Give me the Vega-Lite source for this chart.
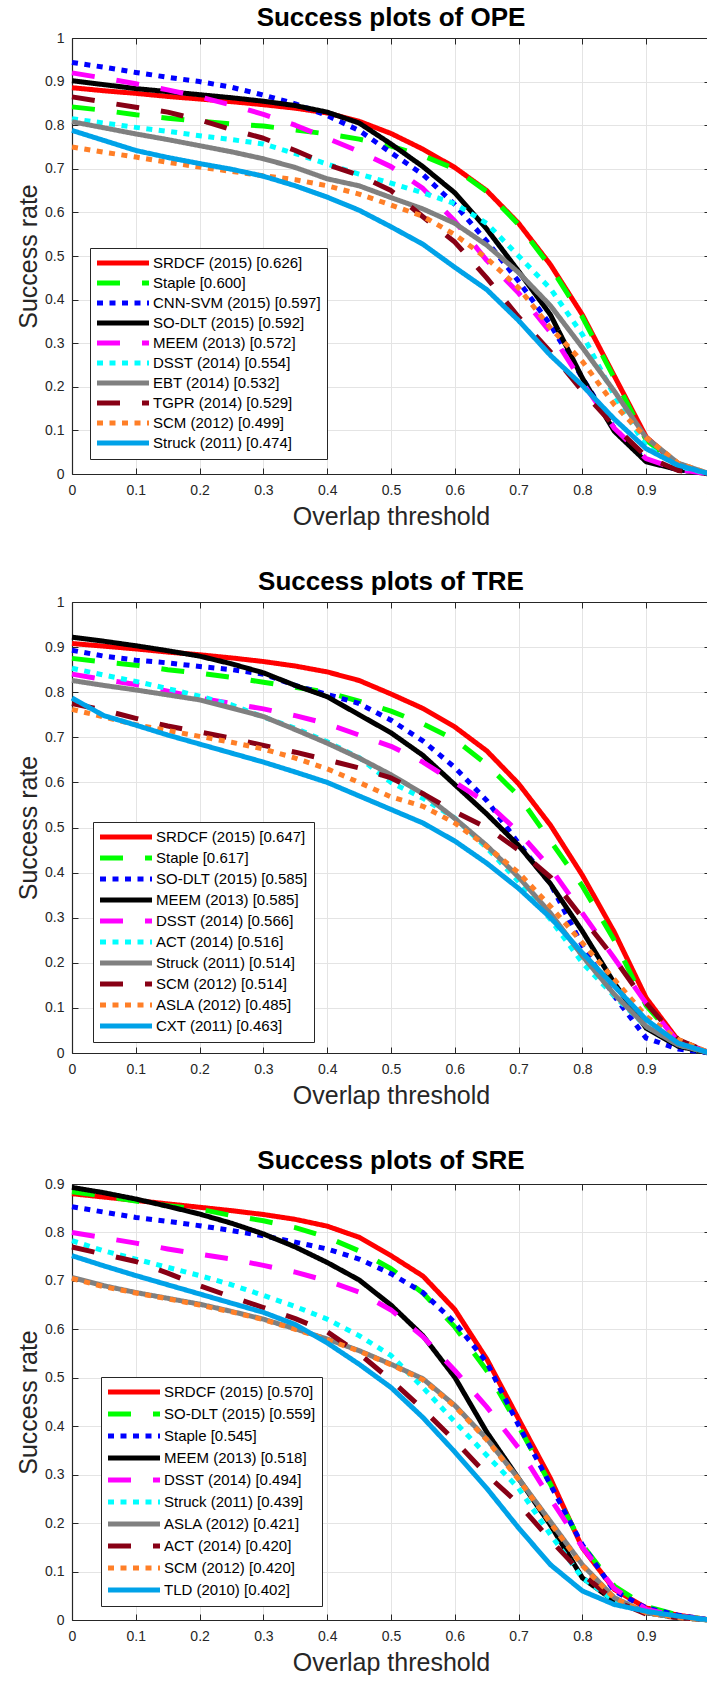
{
"$schema":"https://vega.github.io/schema/vega-lite/v6.json",
"padding":{"left":16,"top":5,"right":0,"bottom":0},
"spacing":40,
"datasets":{
"ope_names":[{"k":1,"name":"SRDCF (2015) [0.626]"},{"k":2,"name":"Staple [0.600]"},{"k":3,"name":"CNN-SVM (2015) [0.597]"},{"k":4,"name":"SO-DLT (2015) [0.592]"},{"k":5,"name":"MEEM (2013) [0.572]"},{"k":6,"name":"DSST (2014) [0.554]"},{"k":7,"name":"EBT (2014) [0.532]"},{"k":8,"name":"TGPR (2014) [0.529]"},{"k":9,"name":"SCM (2012) [0.499]"},{"k":10,"name":"Struck (2011) [0.474]"}],
"tre_names":[{"k":1,"name":"SRDCF (2015) [0.647]"},{"k":2,"name":"Staple [0.617]"},{"k":3,"name":"SO-DLT (2015) [0.585]"},{"k":4,"name":"MEEM (2013) [0.585]"},{"k":5,"name":"DSST (2014) [0.566]"},{"k":6,"name":"ACT (2014) [0.516]"},{"k":7,"name":"Struck (2011) [0.514]"},{"k":8,"name":"SCM (2012) [0.514]"},{"k":9,"name":"ASLA (2012) [0.485]"},{"k":10,"name":"CXT (2011) [0.463]"}],
"sre_names":[{"k":1,"name":"SRDCF (2015) [0.570]"},{"k":2,"name":"SO-DLT (2015) [0.559]"},{"k":3,"name":"Staple [0.545]"},{"k":4,"name":"MEEM (2013) [0.518]"},{"k":5,"name":"DSST (2014) [0.494]"},{"k":6,"name":"Struck (2011) [0.439]"},{"k":7,"name":"ASLA (2012) [0.421]"},{"k":8,"name":"ACT (2014) [0.420]"},{"k":9,"name":"SCM (2012) [0.420]"},{"k":10,"name":"TLD (2010) [0.402]"}],
"ope":[
{"k":1,"x":0,"y":0.886},{"k":1,"x":0.05,"y":0.879},{"k":1,"x":0.1,"y":0.873},{"k":1,"x":0.15,"y":0.866},{"k":1,"x":0.2,"y":0.86},{"k":1,"x":0.25,"y":0.854},{"k":1,"x":0.3,"y":0.847},{"k":1,"x":0.35,"y":0.839},{"k":1,"x":0.4,"y":0.828},{"k":1,"x":0.45,"y":0.809},{"k":1,"x":0.5,"y":0.781},{"k":1,"x":0.55,"y":0.745},{"k":1,"x":0.6,"y":0.703},{"k":1,"x":0.65,"y":0.65},{"k":1,"x":0.7,"y":0.575},{"k":1,"x":0.75,"y":0.48},{"k":1,"x":0.8,"y":0.365},{"k":1,"x":0.85,"y":0.225},{"k":1,"x":0.9,"y":0.085},{"k":1,"x":0.95,"y":0.02},{"k":1,"x":1,"y":0},
{"k":2,"x":0,"y":0.842},{"k":2,"x":0.05,"y":0.834},{"k":2,"x":0.1,"y":0.824},{"k":2,"x":0.15,"y":0.816},{"k":2,"x":0.2,"y":0.809},{"k":2,"x":0.25,"y":0.803},{"k":2,"x":0.3,"y":0.798},{"k":2,"x":0.35,"y":0.789},{"k":2,"x":0.4,"y":0.78},{"k":2,"x":0.45,"y":0.768},{"k":2,"x":0.5,"y":0.752},{"k":2,"x":0.55,"y":0.73},{"k":2,"x":0.6,"y":0.7},{"k":2,"x":0.65,"y":0.648},{"k":2,"x":0.7,"y":0.572},{"k":2,"x":0.75,"y":0.475},{"k":2,"x":0.8,"y":0.36},{"k":2,"x":0.85,"y":0.22},{"k":2,"x":0.9,"y":0.078},{"k":2,"x":0.95,"y":0.02},{"k":2,"x":1,"y":0},
{"k":3,"x":0,"y":0.944},{"k":3,"x":0.05,"y":0.933},{"k":3,"x":0.1,"y":0.921},{"k":3,"x":0.15,"y":0.91},{"k":3,"x":0.2,"y":0.9},{"k":3,"x":0.25,"y":0.887},{"k":3,"x":0.3,"y":0.869},{"k":3,"x":0.35,"y":0.849},{"k":3,"x":0.4,"y":0.822},{"k":3,"x":0.45,"y":0.788},{"k":3,"x":0.5,"y":0.737},{"k":3,"x":0.55,"y":0.687},{"k":3,"x":0.6,"y":0.618},{"k":3,"x":0.65,"y":0.534},{"k":3,"x":0.7,"y":0.442},{"k":3,"x":0.75,"y":0.342},{"k":3,"x":0.8,"y":0.22},{"k":3,"x":0.85,"y":0.105},{"k":3,"x":0.9,"y":0.03},{"k":3,"x":0.95,"y":0.01},{"k":3,"x":1,"y":0},
{"k":4,"x":0,"y":0.902},{"k":4,"x":0.05,"y":0.893},{"k":4,"x":0.1,"y":0.884},{"k":4,"x":0.15,"y":0.877},{"k":4,"x":0.2,"y":0.87},{"k":4,"x":0.25,"y":0.863},{"k":4,"x":0.3,"y":0.855},{"k":4,"x":0.35,"y":0.845},{"k":4,"x":0.4,"y":0.83},{"k":4,"x":0.45,"y":0.805},{"k":4,"x":0.5,"y":0.757},{"k":4,"x":0.55,"y":0.705},{"k":4,"x":0.6,"y":0.645},{"k":4,"x":0.65,"y":0.562},{"k":4,"x":0.7,"y":0.465},{"k":4,"x":0.75,"y":0.365},{"k":4,"x":0.8,"y":0.22},{"k":4,"x":0.85,"y":0.098},{"k":4,"x":0.9,"y":0.028},{"k":4,"x":0.95,"y":0.01},{"k":4,"x":1,"y":0},
{"k":5,"x":0,"y":0.92},{"k":5,"x":0.05,"y":0.908},{"k":5,"x":0.1,"y":0.895},{"k":5,"x":0.15,"y":0.881},{"k":5,"x":0.2,"y":0.865},{"k":5,"x":0.25,"y":0.846},{"k":5,"x":0.3,"y":0.825},{"k":5,"x":0.35,"y":0.8},{"k":5,"x":0.4,"y":0.77},{"k":5,"x":0.45,"y":0.74},{"k":5,"x":0.5,"y":0.705},{"k":5,"x":0.55,"y":0.655},{"k":5,"x":0.6,"y":0.58},{"k":5,"x":0.65,"y":0.49},{"k":5,"x":0.7,"y":0.415},{"k":5,"x":0.75,"y":0.325},{"k":5,"x":0.8,"y":0.21},{"k":5,"x":0.85,"y":0.105},{"k":5,"x":0.9,"y":0.035},{"k":5,"x":0.95,"y":0.01},{"k":5,"x":1,"y":0},
{"k":6,"x":0,"y":0.815},{"k":6,"x":0.05,"y":0.805},{"k":6,"x":0.1,"y":0.795},{"k":6,"x":0.15,"y":0.786},{"k":6,"x":0.2,"y":0.776},{"k":6,"x":0.25,"y":0.767},{"k":6,"x":0.3,"y":0.757},{"k":6,"x":0.35,"y":0.735},{"k":6,"x":0.4,"y":0.711},{"k":6,"x":0.45,"y":0.688},{"k":6,"x":0.5,"y":0.667},{"k":6,"x":0.55,"y":0.645},{"k":6,"x":0.6,"y":0.62},{"k":6,"x":0.65,"y":0.575},{"k":6,"x":0.7,"y":0.5},{"k":6,"x":0.75,"y":0.425},{"k":6,"x":0.8,"y":0.32},{"k":6,"x":0.85,"y":0.18},{"k":6,"x":0.9,"y":0.063},{"k":6,"x":0.95,"y":0.018},{"k":6,"x":1,"y":0},
{"k":7,"x":0,"y":0.808},{"k":7,"x":0.05,"y":0.794},{"k":7,"x":0.1,"y":0.78},{"k":7,"x":0.15,"y":0.767},{"k":7,"x":0.2,"y":0.753},{"k":7,"x":0.25,"y":0.739},{"k":7,"x":0.3,"y":0.723},{"k":7,"x":0.35,"y":0.703},{"k":7,"x":0.4,"y":0.677},{"k":7,"x":0.45,"y":0.661},{"k":7,"x":0.5,"y":0.634},{"k":7,"x":0.55,"y":0.608},{"k":7,"x":0.6,"y":0.575},{"k":7,"x":0.65,"y":0.525},{"k":7,"x":0.7,"y":0.462},{"k":7,"x":0.75,"y":0.386},{"k":7,"x":0.8,"y":0.29},{"k":7,"x":0.85,"y":0.19},{"k":7,"x":0.9,"y":0.083},{"k":7,"x":0.95,"y":0.025},{"k":7,"x":1,"y":0},
{"k":8,"x":0,"y":0.865},{"k":8,"x":0.05,"y":0.853},{"k":8,"x":0.1,"y":0.841},{"k":8,"x":0.15,"y":0.83},{"k":8,"x":0.2,"y":0.812},{"k":8,"x":0.25,"y":0.79},{"k":8,"x":0.3,"y":0.77},{"k":8,"x":0.35,"y":0.742},{"k":8,"x":0.4,"y":0.71},{"k":8,"x":0.45,"y":0.685},{"k":8,"x":0.5,"y":0.65},{"k":8,"x":0.55,"y":0.59},{"k":8,"x":0.6,"y":0.532},{"k":8,"x":0.65,"y":0.45},{"k":8,"x":0.7,"y":0.36},{"k":8,"x":0.75,"y":0.28},{"k":8,"x":0.8,"y":0.19},{"k":8,"x":0.85,"y":0.11},{"k":8,"x":0.9,"y":0.04},{"k":8,"x":0.95,"y":0.008},{"k":8,"x":1,"y":0},
{"k":9,"x":0,"y":0.75},{"k":9,"x":0.05,"y":0.738},{"k":9,"x":0.1,"y":0.727},{"k":9,"x":0.15,"y":0.715},{"k":9,"x":0.2,"y":0.704},{"k":9,"x":0.25,"y":0.694},{"k":9,"x":0.3,"y":0.684},{"k":9,"x":0.35,"y":0.675},{"k":9,"x":0.4,"y":0.661},{"k":9,"x":0.45,"y":0.642},{"k":9,"x":0.5,"y":0.617},{"k":9,"x":0.55,"y":0.591},{"k":9,"x":0.6,"y":0.549},{"k":9,"x":0.65,"y":0.495},{"k":9,"x":0.7,"y":0.427},{"k":9,"x":0.75,"y":0.335},{"k":9,"x":0.8,"y":0.258},{"k":9,"x":0.85,"y":0.159},{"k":9,"x":0.9,"y":0.083},{"k":9,"x":0.95,"y":0.025},{"k":9,"x":1,"y":0},
{"k":10,"x":0,"y":0.788},{"k":10,"x":0.05,"y":0.765},{"k":10,"x":0.1,"y":0.742},{"k":10,"x":0.15,"y":0.726},{"k":10,"x":0.2,"y":0.712},{"k":10,"x":0.25,"y":0.699},{"k":10,"x":0.3,"y":0.683},{"k":10,"x":0.35,"y":0.661},{"k":10,"x":0.4,"y":0.635},{"k":10,"x":0.45,"y":0.605},{"k":10,"x":0.5,"y":0.567},{"k":10,"x":0.55,"y":0.527},{"k":10,"x":0.6,"y":0.474},{"k":10,"x":0.65,"y":0.423},{"k":10,"x":0.7,"y":0.352},{"k":10,"x":0.75,"y":0.272},{"k":10,"x":0.8,"y":0.203},{"k":10,"x":0.85,"y":0.126},{"k":10,"x":0.9,"y":0.058},{"k":10,"x":0.95,"y":0.02},{"k":10,"x":1,"y":0}
],
"tre":[
{"k":1,"x":0,"y":0.908},{"k":1,"x":0.05,"y":0.902},{"k":1,"x":0.1,"y":0.896},{"k":1,"x":0.15,"y":0.889},{"k":1,"x":0.2,"y":0.883},{"k":1,"x":0.25,"y":0.876},{"k":1,"x":0.3,"y":0.868},{"k":1,"x":0.35,"y":0.858},{"k":1,"x":0.4,"y":0.845},{"k":1,"x":0.45,"y":0.826},{"k":1,"x":0.5,"y":0.796},{"k":1,"x":0.55,"y":0.764},{"k":1,"x":0.6,"y":0.723},{"k":1,"x":0.65,"y":0.67},{"k":1,"x":0.7,"y":0.597},{"k":1,"x":0.75,"y":0.505},{"k":1,"x":0.8,"y":0.394},{"k":1,"x":0.85,"y":0.268},{"k":1,"x":0.9,"y":0.122},{"k":1,"x":0.95,"y":0.028},{"k":1,"x":1,"y":0},
{"k":2,"x":0,"y":0.875},{"k":2,"x":0.05,"y":0.867},{"k":2,"x":0.1,"y":0.86},{"k":2,"x":0.15,"y":0.85},{"k":2,"x":0.2,"y":0.842},{"k":2,"x":0.25,"y":0.833},{"k":2,"x":0.3,"y":0.822},{"k":2,"x":0.35,"y":0.811},{"k":2,"x":0.4,"y":0.8},{"k":2,"x":0.45,"y":0.78},{"k":2,"x":0.5,"y":0.758},{"k":2,"x":0.55,"y":0.73},{"k":2,"x":0.6,"y":0.695},{"k":2,"x":0.65,"y":0.64},{"k":2,"x":0.7,"y":0.57},{"k":2,"x":0.75,"y":0.47},{"k":2,"x":0.8,"y":0.37},{"k":2,"x":0.85,"y":0.25},{"k":2,"x":0.9,"y":0.105},{"k":2,"x":0.95,"y":0.025},{"k":2,"x":1,"y":0},
{"k":3,"x":0,"y":0.893},{"k":3,"x":0.05,"y":0.88},{"k":3,"x":0.1,"y":0.871},{"k":3,"x":0.15,"y":0.865},{"k":3,"x":0.2,"y":0.857},{"k":3,"x":0.25,"y":0.85},{"k":3,"x":0.3,"y":0.84},{"k":3,"x":0.35,"y":0.815},{"k":3,"x":0.4,"y":0.795},{"k":3,"x":0.45,"y":0.775},{"k":3,"x":0.5,"y":0.738},{"k":3,"x":0.55,"y":0.692},{"k":3,"x":0.6,"y":0.633},{"k":3,"x":0.65,"y":0.56},{"k":3,"x":0.7,"y":0.465},{"k":3,"x":0.75,"y":0.375},{"k":3,"x":0.8,"y":0.238},{"k":3,"x":0.85,"y":0.126},{"k":3,"x":0.9,"y":0.033},{"k":3,"x":0.95,"y":0.009},{"k":3,"x":1,"y":0},
{"k":4,"x":0,"y":0.922},{"k":4,"x":0.05,"y":0.913},{"k":4,"x":0.1,"y":0.903},{"k":4,"x":0.15,"y":0.892},{"k":4,"x":0.2,"y":0.88},{"k":4,"x":0.25,"y":0.863},{"k":4,"x":0.3,"y":0.843},{"k":4,"x":0.35,"y":0.815},{"k":4,"x":0.4,"y":0.79},{"k":4,"x":0.45,"y":0.75},{"k":4,"x":0.5,"y":0.71},{"k":4,"x":0.55,"y":0.66},{"k":4,"x":0.6,"y":0.595},{"k":4,"x":0.65,"y":0.53},{"k":4,"x":0.7,"y":0.46},{"k":4,"x":0.75,"y":0.375},{"k":4,"x":0.8,"y":0.27},{"k":4,"x":0.85,"y":0.155},{"k":4,"x":0.9,"y":0.055},{"k":4,"x":0.95,"y":0.015},{"k":4,"x":1,"y":0},
{"k":5,"x":0,"y":0.84},{"k":5,"x":0.05,"y":0.828},{"k":5,"x":0.1,"y":0.817},{"k":5,"x":0.15,"y":0.802},{"k":5,"x":0.2,"y":0.787},{"k":5,"x":0.25,"y":0.775},{"k":5,"x":0.3,"y":0.763},{"k":5,"x":0.35,"y":0.748},{"k":5,"x":0.4,"y":0.73},{"k":5,"x":0.45,"y":0.705},{"k":5,"x":0.5,"y":0.68},{"k":5,"x":0.55,"y":0.645},{"k":5,"x":0.6,"y":0.6},{"k":5,"x":0.65,"y":0.555},{"k":5,"x":0.7,"y":0.49},{"k":5,"x":0.75,"y":0.41},{"k":5,"x":0.8,"y":0.31},{"k":5,"x":0.85,"y":0.21},{"k":5,"x":0.9,"y":0.11},{"k":5,"x":0.95,"y":0.025},{"k":5,"x":1,"y":0},
{"k":6,"x":0,"y":0.853},{"k":6,"x":0.05,"y":0.838},{"k":6,"x":0.1,"y":0.824},{"k":6,"x":0.15,"y":0.808},{"k":6,"x":0.2,"y":0.791},{"k":6,"x":0.25,"y":0.772},{"k":6,"x":0.3,"y":0.745},{"k":6,"x":0.35,"y":0.72},{"k":6,"x":0.4,"y":0.69},{"k":6,"x":0.45,"y":0.655},{"k":6,"x":0.5,"y":0.6},{"k":6,"x":0.55,"y":0.565},{"k":6,"x":0.6,"y":0.521},{"k":6,"x":0.65,"y":0.455},{"k":6,"x":0.7,"y":0.38},{"k":6,"x":0.75,"y":0.296},{"k":6,"x":0.8,"y":0.2},{"k":6,"x":0.85,"y":0.126},{"k":6,"x":0.9,"y":0.059},{"k":6,"x":0.95,"y":0.018},{"k":6,"x":1,"y":0},
{"k":7,"x":0,"y":0.826},{"k":7,"x":0.05,"y":0.815},{"k":7,"x":0.1,"y":0.805},{"k":7,"x":0.15,"y":0.794},{"k":7,"x":0.2,"y":0.783},{"k":7,"x":0.25,"y":0.765},{"k":7,"x":0.3,"y":0.746},{"k":7,"x":0.35,"y":0.717},{"k":7,"x":0.4,"y":0.687},{"k":7,"x":0.45,"y":0.654},{"k":7,"x":0.5,"y":0.617},{"k":7,"x":0.55,"y":0.575},{"k":7,"x":0.6,"y":0.52},{"k":7,"x":0.65,"y":0.46},{"k":7,"x":0.7,"y":0.39},{"k":7,"x":0.75,"y":0.31},{"k":7,"x":0.8,"y":0.215},{"k":7,"x":0.85,"y":0.13},{"k":7,"x":0.9,"y":0.059},{"k":7,"x":0.95,"y":0.018},{"k":7,"x":1,"y":0},
{"k":8,"x":0,"y":0.775},{"k":8,"x":0.05,"y":0.76},{"k":8,"x":0.1,"y":0.742},{"k":8,"x":0.15,"y":0.725},{"k":8,"x":0.2,"y":0.712},{"k":8,"x":0.25,"y":0.698},{"k":8,"x":0.3,"y":0.682},{"k":8,"x":0.35,"y":0.667},{"k":8,"x":0.4,"y":0.65},{"k":8,"x":0.45,"y":0.632},{"k":8,"x":0.5,"y":0.61},{"k":8,"x":0.55,"y":0.575},{"k":8,"x":0.6,"y":0.535},{"k":8,"x":0.65,"y":0.5},{"k":8,"x":0.7,"y":0.45},{"k":8,"x":0.75,"y":0.39},{"k":8,"x":0.8,"y":0.3},{"k":8,"x":0.85,"y":0.21},{"k":8,"x":0.9,"y":0.11},{"k":8,"x":0.95,"y":0.03},{"k":8,"x":1,"y":0},
{"k":9,"x":0,"y":0.762},{"k":9,"x":0.05,"y":0.745},{"k":9,"x":0.1,"y":0.728},{"k":9,"x":0.15,"y":0.715},{"k":9,"x":0.2,"y":0.702},{"k":9,"x":0.25,"y":0.689},{"k":9,"x":0.3,"y":0.674},{"k":9,"x":0.35,"y":0.654},{"k":9,"x":0.4,"y":0.63},{"k":9,"x":0.45,"y":0.6},{"k":9,"x":0.5,"y":0.568},{"k":9,"x":0.55,"y":0.547},{"k":9,"x":0.6,"y":0.51},{"k":9,"x":0.65,"y":0.458},{"k":9,"x":0.7,"y":0.4},{"k":9,"x":0.75,"y":0.325},{"k":9,"x":0.8,"y":0.244},{"k":9,"x":0.85,"y":0.163},{"k":9,"x":0.9,"y":0.081},{"k":9,"x":0.95,"y":0.03},{"k":9,"x":1,"y":0},
{"k":10,"x":0,"y":0.787},{"k":10,"x":0.05,"y":0.748},{"k":10,"x":0.1,"y":0.727},{"k":10,"x":0.15,"y":0.705},{"k":10,"x":0.2,"y":0.685},{"k":10,"x":0.25,"y":0.665},{"k":10,"x":0.3,"y":0.645},{"k":10,"x":0.35,"y":0.623},{"k":10,"x":0.4,"y":0.6},{"k":10,"x":0.45,"y":0.57},{"k":10,"x":0.5,"y":0.54},{"k":10,"x":0.55,"y":0.51},{"k":10,"x":0.6,"y":0.47},{"k":10,"x":0.65,"y":0.421},{"k":10,"x":0.7,"y":0.365},{"k":10,"x":0.75,"y":0.3},{"k":10,"x":0.8,"y":0.222},{"k":10,"x":0.85,"y":0.148},{"k":10,"x":0.9,"y":0.074},{"k":10,"x":0.95,"y":0.022},{"k":10,"x":1,"y":0}
],
"sre":[
{"k":1,"x":0,"y":0.88},{"k":1,"x":0.05,"y":0.873},{"k":1,"x":0.1,"y":0.866},{"k":1,"x":0.15,"y":0.859},{"k":1,"x":0.2,"y":0.852},{"k":1,"x":0.25,"y":0.845},{"k":1,"x":0.3,"y":0.837},{"k":1,"x":0.35,"y":0.827},{"k":1,"x":0.4,"y":0.813},{"k":1,"x":0.45,"y":0.79},{"k":1,"x":0.5,"y":0.752},{"k":1,"x":0.55,"y":0.71},{"k":1,"x":0.6,"y":0.641},{"k":1,"x":0.65,"y":0.539},{"k":1,"x":0.7,"y":0.415},{"k":1,"x":0.75,"y":0.292},{"k":1,"x":0.8,"y":0.149},{"k":1,"x":0.85,"y":0.063},{"k":1,"x":0.9,"y":0.025},{"k":1,"x":0.95,"y":0.01},{"k":1,"x":1,"y":0},
{"k":2,"x":0,"y":0.884},{"k":2,"x":0.05,"y":0.875},{"k":2,"x":0.1,"y":0.865},{"k":2,"x":0.15,"y":0.855},{"k":2,"x":0.2,"y":0.848},{"k":2,"x":0.25,"y":0.835},{"k":2,"x":0.3,"y":0.824},{"k":2,"x":0.35,"y":0.81},{"k":2,"x":0.4,"y":0.79},{"k":2,"x":0.45,"y":0.762},{"k":2,"x":0.5,"y":0.725},{"k":2,"x":0.55,"y":0.675},{"k":2,"x":0.6,"y":0.605},{"k":2,"x":0.65,"y":0.515},{"k":2,"x":0.7,"y":0.4},{"k":2,"x":0.75,"y":0.28},{"k":2,"x":0.8,"y":0.155},{"k":2,"x":0.85,"y":0.07},{"k":2,"x":0.9,"y":0.028},{"k":2,"x":0.95,"y":0.01},{"k":2,"x":1,"y":0},
{"k":3,"x":0,"y":0.853},{"k":3,"x":0.05,"y":0.842},{"k":3,"x":0.1,"y":0.831},{"k":3,"x":0.15,"y":0.823},{"k":3,"x":0.2,"y":0.814},{"k":3,"x":0.25,"y":0.804},{"k":3,"x":0.3,"y":0.793},{"k":3,"x":0.35,"y":0.78},{"k":3,"x":0.4,"y":0.766},{"k":3,"x":0.45,"y":0.745},{"k":3,"x":0.5,"y":0.715},{"k":3,"x":0.55,"y":0.676},{"k":3,"x":0.6,"y":0.614},{"k":3,"x":0.65,"y":0.532},{"k":3,"x":0.7,"y":0.402},{"k":3,"x":0.75,"y":0.279},{"k":3,"x":0.8,"y":0.155},{"k":3,"x":0.85,"y":0.06},{"k":3,"x":0.9,"y":0.025},{"k":3,"x":0.95,"y":0.01},{"k":3,"x":1,"y":0},
{"k":4,"x":0,"y":0.893},{"k":4,"x":0.05,"y":0.882},{"k":4,"x":0.1,"y":0.869},{"k":4,"x":0.15,"y":0.854},{"k":4,"x":0.2,"y":0.838},{"k":4,"x":0.25,"y":0.819},{"k":4,"x":0.3,"y":0.797},{"k":4,"x":0.35,"y":0.77},{"k":4,"x":0.4,"y":0.738},{"k":4,"x":0.45,"y":0.702},{"k":4,"x":0.5,"y":0.65},{"k":4,"x":0.55,"y":0.587},{"k":4,"x":0.6,"y":0.501},{"k":4,"x":0.65,"y":0.388},{"k":4,"x":0.7,"y":0.292},{"k":4,"x":0.75,"y":0.196},{"k":4,"x":0.8,"y":0.087},{"k":4,"x":0.85,"y":0.039},{"k":4,"x":0.9,"y":0.015},{"k":4,"x":0.95,"y":0.005},{"k":4,"x":1,"y":0},
{"k":5,"x":0,"y":0.8},{"k":5,"x":0.05,"y":0.789},{"k":5,"x":0.1,"y":0.778},{"k":5,"x":0.15,"y":0.766},{"k":5,"x":0.2,"y":0.755},{"k":5,"x":0.25,"y":0.745},{"k":5,"x":0.3,"y":0.732},{"k":5,"x":0.35,"y":0.718},{"k":5,"x":0.4,"y":0.7},{"k":5,"x":0.45,"y":0.677},{"k":5,"x":0.5,"y":0.64},{"k":5,"x":0.55,"y":0.585},{"k":5,"x":0.6,"y":0.515},{"k":5,"x":0.65,"y":0.44},{"k":5,"x":0.7,"y":0.355},{"k":5,"x":0.75,"y":0.25},{"k":5,"x":0.8,"y":0.15},{"k":5,"x":0.85,"y":0.065},{"k":5,"x":0.9,"y":0.022},{"k":5,"x":0.95,"y":0.008},{"k":5,"x":1,"y":0},
{"k":6,"x":0,"y":0.783},{"k":6,"x":0.05,"y":0.762},{"k":6,"x":0.1,"y":0.745},{"k":6,"x":0.15,"y":0.728},{"k":6,"x":0.2,"y":0.711},{"k":6,"x":0.25,"y":0.692},{"k":6,"x":0.3,"y":0.67},{"k":6,"x":0.35,"y":0.647},{"k":6,"x":0.4,"y":0.621},{"k":6,"x":0.45,"y":0.587},{"k":6,"x":0.5,"y":0.546},{"k":6,"x":0.55,"y":0.48},{"k":6,"x":0.6,"y":0.409},{"k":6,"x":0.65,"y":0.34},{"k":6,"x":0.7,"y":0.272},{"k":6,"x":0.75,"y":0.176},{"k":6,"x":0.8,"y":0.087},{"k":6,"x":0.85,"y":0.04},{"k":6,"x":0.9,"y":0.015},{"k":6,"x":0.95,"y":0.005},{"k":6,"x":1,"y":0},
{"k":7,"x":0,"y":0.707},{"k":7,"x":0.05,"y":0.69},{"k":7,"x":0.1,"y":0.676},{"k":7,"x":0.15,"y":0.664},{"k":7,"x":0.2,"y":0.652},{"k":7,"x":0.25,"y":0.637},{"k":7,"x":0.3,"y":0.621},{"k":7,"x":0.35,"y":0.601},{"k":7,"x":0.4,"y":0.58},{"k":7,"x":0.45,"y":0.556},{"k":7,"x":0.5,"y":0.528},{"k":7,"x":0.55,"y":0.498},{"k":7,"x":0.6,"y":0.443},{"k":7,"x":0.65,"y":0.374},{"k":7,"x":0.7,"y":0.292},{"k":7,"x":0.75,"y":0.203},{"k":7,"x":0.8,"y":0.114},{"k":7,"x":0.85,"y":0.046},{"k":7,"x":0.9,"y":0.015},{"k":7,"x":0.95,"y":0.005},{"k":7,"x":1,"y":0},
{"k":8,"x":0,"y":0.77},{"k":8,"x":0.05,"y":0.755},{"k":8,"x":0.1,"y":0.74},{"k":8,"x":0.15,"y":0.716},{"k":8,"x":0.2,"y":0.69},{"k":8,"x":0.25,"y":0.667},{"k":8,"x":0.3,"y":0.645},{"k":8,"x":0.35,"y":0.622},{"k":8,"x":0.4,"y":0.595},{"k":8,"x":0.45,"y":0.55},{"k":8,"x":0.5,"y":0.495},{"k":8,"x":0.55,"y":0.435},{"k":8,"x":0.6,"y":0.37},{"k":8,"x":0.65,"y":0.3},{"k":8,"x":0.7,"y":0.24},{"k":8,"x":0.75,"y":0.165},{"k":8,"x":0.8,"y":0.095},{"k":8,"x":0.85,"y":0.04},{"k":8,"x":0.9,"y":0.012},{"k":8,"x":0.95,"y":0.005},{"k":8,"x":1,"y":0},
{"k":9,"x":0,"y":0.705},{"k":9,"x":0.05,"y":0.688},{"k":9,"x":0.1,"y":0.675},{"k":9,"x":0.15,"y":0.663},{"k":9,"x":0.2,"y":0.65},{"k":9,"x":0.25,"y":0.636},{"k":9,"x":0.3,"y":0.62},{"k":9,"x":0.35,"y":0.6},{"k":9,"x":0.4,"y":0.579},{"k":9,"x":0.45,"y":0.555},{"k":9,"x":0.5,"y":0.527},{"k":9,"x":0.55,"y":0.496},{"k":9,"x":0.6,"y":0.441},{"k":9,"x":0.65,"y":0.372},{"k":9,"x":0.7,"y":0.29},{"k":9,"x":0.75,"y":0.2},{"k":9,"x":0.8,"y":0.112},{"k":9,"x":0.85,"y":0.045},{"k":9,"x":0.9,"y":0.015},{"k":9,"x":0.95,"y":0.005},{"k":9,"x":1,"y":0},
{"k":10,"x":0,"y":0.752},{"k":10,"x":0.05,"y":0.731},{"k":10,"x":0.1,"y":0.711},{"k":10,"x":0.15,"y":0.692},{"k":10,"x":0.2,"y":0.673},{"k":10,"x":0.25,"y":0.654},{"k":10,"x":0.3,"y":0.635},{"k":10,"x":0.35,"y":0.61},{"k":10,"x":0.4,"y":0.572},{"k":10,"x":0.45,"y":0.528},{"k":10,"x":0.5,"y":0.48},{"k":10,"x":0.55,"y":0.418},{"k":10,"x":0.6,"y":0.347},{"k":10,"x":0.65,"y":0.272},{"k":10,"x":0.7,"y":0.19},{"k":10,"x":0.75,"y":0.114},{"k":10,"x":0.8,"y":0.06},{"k":10,"x":0.85,"y":0.032},{"k":10,"x":0.9,"y":0.018},{"k":10,"x":0.95,"y":0.008},{"k":10,"x":1,"y":0}
]
},
"vconcat":[
{
"width":638,"height":436,
"title":{"text":"Success plots of OPE","offset":0},
"data":{"name":"ope"},
"transform":[{"lookup":"k","from":{"data":{"name":"ope_names"},"key":"k","fields":["name"]}}],
"layer":[
{"mark":{"type":"line","strokeWidth":5,"strokeCap":"butt","strokeJoin":"round"},
"encoding":{
"x":{"field":"x","type":"quantitative","scale":{"domain":[0,1],"nice":false},"axis":{"orient":"bottom","values":[0,0.1,0.2,0.3,0.4,0.5,0.6,0.7,0.8,0.9,1],"format":"~g","title":"Overlap threshold","grid":true}},
"y":{"field":"y","type":"quantitative","scale":{"domain":[0,1],"nice":false},"axis":{"orient":"left","values":[0,0.1,0.2,0.3,0.4,0.5,0.6,0.7,0.8,0.9,1],"format":"~g","title":"Success rate","grid":true}},
"color":{"field":"name","type":"nominal","scale":{"domain":["SRDCF (2015) [0.626]","Staple [0.600]","CNN-SVM (2015) [0.597]","SO-DLT (2015) [0.592]","MEEM (2013) [0.572]","DSST (2014) [0.554]","EBT (2014) [0.532]","TGPR (2014) [0.529]","SCM (2012) [0.499]","Struck (2011) [0.474]"],"range":["#ff0000","#00ff00","#0000ff","#000000","#ff00ff","#00ffff","#808080","#880015","#ff7f27","#00a2e8"]},"legend":{"title":null,"orient":"none","legendX":18,"legendY":210,"rowPadding":0}},
"strokeDash":{"field":"name","type":"nominal","scale":{"domain":["SRDCF (2015) [0.626]","Staple [0.600]","CNN-SVM (2015) [0.597]","SO-DLT (2015) [0.592]","MEEM (2013) [0.572]","DSST (2014) [0.554]","EBT (2014) [0.532]","TGPR (2014) [0.529]","SCM (2012) [0.499]","Struck (2011) [0.474]"],"range":[[1,0],[23,22],[6,6.5],[1,0],[23,22],[6,6.5],[1,0],[23,22],[6,6.5],[1,0]]},"legend":{"title":null,"orient":"none","legendX":18,"legendY":210,"rowPadding":0}}
}},
{"mark":{"type":"line","opacity":0},
"encoding":{
"x":{"field":"x","type":"quantitative","axis":{"orient":"top","values":[0,0.1,0.2,0.3,0.4,0.5,0.6,0.7,0.8,0.9,1],"labels":false,"title":null,"grid":false}},
"y":{"field":"y","type":"quantitative","axis":{"orient":"right","values":[0,0.1,0.2,0.3,0.4,0.5,0.6,0.7,0.8,0.9,1],"labels":false,"title":null,"grid":false}},
"detail":{"field":"k"}
}}
],
"resolve":{"axis":{"x":"independent","y":"independent"}}
},
{
"width":638,"height":451,
"title":{"text":"Success plots of TRE","offset":0},
"data":{"name":"tre"},
"transform":[{"lookup":"k","from":{"data":{"name":"tre_names"},"key":"k","fields":["name"]}}],
"layer":[
{"mark":{"type":"line","strokeWidth":5,"strokeCap":"butt","strokeJoin":"round"},
"encoding":{
"x":{"field":"x","type":"quantitative","scale":{"domain":[0,1],"nice":false},"axis":{"orient":"bottom","values":[0,0.1,0.2,0.3,0.4,0.5,0.6,0.7,0.8,0.9,1],"format":"~g","title":"Overlap threshold","grid":true}},
"y":{"field":"y","type":"quantitative","scale":{"domain":[0,1],"nice":false},"axis":{"orient":"left","values":[0,0.1,0.2,0.3,0.4,0.5,0.6,0.7,0.8,0.9,1],"format":"~g","title":"Success rate","grid":true}},
"color":{"field":"name","type":"nominal","scale":{"domain":["SRDCF (2015) [0.647]","Staple [0.617]","SO-DLT (2015) [0.585]","MEEM (2013) [0.585]","DSST (2014) [0.566]","ACT (2014) [0.516]","Struck (2011) [0.514]","SCM (2012) [0.514]","ASLA (2012) [0.485]","CXT (2011) [0.463]"],"range":["#ff0000","#00ff00","#0000ff","#000000","#ff00ff","#00ffff","#808080","#880015","#ff7f27","#00a2e8"]},"legend":{"title":null,"orient":"none","legendX":21,"legendY":220,"rowPadding":1}},
"strokeDash":{"field":"name","type":"nominal","scale":{"domain":["SRDCF (2015) [0.647]","Staple [0.617]","SO-DLT (2015) [0.585]","MEEM (2013) [0.585]","DSST (2014) [0.566]","ACT (2014) [0.516]","Struck (2011) [0.514]","SCM (2012) [0.514]","ASLA (2012) [0.485]","CXT (2011) [0.463]"],"range":[[1,0],[23,22],[6,6.5],[1,0],[23,22],[6,6.5],[1,0],[23,22],[6,6.5],[1,0]]},"legend":{"title":null,"orient":"none","legendX":21,"legendY":220,"rowPadding":1}}
}},
{"mark":{"type":"line","opacity":0},
"encoding":{
"x":{"field":"x","type":"quantitative","axis":{"orient":"top","values":[0,0.1,0.2,0.3,0.4,0.5,0.6,0.7,0.8,0.9,1],"labels":false,"title":null,"grid":false}},
"y":{"field":"y","type":"quantitative","axis":{"orient":"right","values":[0,0.1,0.2,0.3,0.4,0.5,0.6,0.7,0.8,0.9,1],"labels":false,"title":null,"grid":false}},
"detail":{"field":"k"}
}}
],
"resolve":{"axis":{"x":"independent","y":"independent"}}
},
{
"width":638,"height":436,
"title":{"text":"Success plots of SRE","offset":3},
"data":{"name":"sre"},
"transform":[{"lookup":"k","from":{"data":{"name":"sre_names"},"key":"k","fields":["name"]}}],
"layer":[
{"mark":{"type":"line","strokeWidth":5,"strokeCap":"butt","strokeJoin":"round"},
"encoding":{
"x":{"field":"x","type":"quantitative","scale":{"domain":[0,1],"nice":false},"axis":{"orient":"bottom","values":[0,0.1,0.2,0.3,0.4,0.5,0.6,0.7,0.8,0.9,1],"format":"~g","title":"Overlap threshold","grid":true}},
"y":{"field":"y","type":"quantitative","scale":{"domain":[0,0.9],"nice":false},"axis":{"orient":"left","values":[0,0.1,0.2,0.3,0.4,0.5,0.6,0.7,0.8,0.9],"format":"~g","title":"Success rate","grid":true}},
"color":{"field":"name","type":"nominal","scale":{"domain":["SRDCF (2015) [0.570]","SO-DLT (2015) [0.559]","Staple [0.545]","MEEM (2013) [0.518]","DSST (2014) [0.494]","Struck (2011) [0.439]","ASLA (2012) [0.421]","ACT (2014) [0.420]","SCM (2012) [0.420]","TLD (2010) [0.402]"],"range":["#ff0000","#00ff00","#0000ff","#000000","#ff00ff","#00ffff","#808080","#880015","#ff7f27","#00a2e8"]},"legend":{"title":null,"orient":"none","legendX":29,"legendY":193,"rowPadding":2}},
"strokeDash":{"field":"name","type":"nominal","scale":{"domain":["SRDCF (2015) [0.570]","SO-DLT (2015) [0.559]","Staple [0.545]","MEEM (2013) [0.518]","DSST (2014) [0.494]","Struck (2011) [0.439]","ASLA (2012) [0.421]","ACT (2014) [0.420]","SCM (2012) [0.420]","TLD (2010) [0.402]"],"range":[[1,0],[23,22],[6,6.5],[1,0],[23,22],[6,6.5],[1,0],[23,22],[6,6.5],[1,0]]},"legend":{"title":null,"orient":"none","legendX":29,"legendY":193,"rowPadding":2}}
}},
{"mark":{"type":"line","opacity":0},
"encoding":{
"x":{"field":"x","type":"quantitative","axis":{"orient":"top","values":[0,0.1,0.2,0.3,0.4,0.5,0.6,0.7,0.8,0.9,1],"labels":false,"title":null,"grid":false}},
"y":{"field":"y","type":"quantitative","axis":{"orient":"right","values":[0,0.1,0.2,0.3,0.4,0.5,0.6,0.7,0.8,0.9],"labels":false,"title":null,"grid":false}},
"detail":{"field":"k"}
}}
],
"resolve":{"axis":{"x":"independent","y":"independent"}}
}
],
"resolve":{"scale":{"x":"independent","y":"independent","color":"independent","strokeDash":"independent"},"legend":{"color":"independent","strokeDash":"independent"}},
"config":{
"font":"Liberation Sans",
"view":{"stroke":null},
"axis":{"labelFont":"Liberation Sans","labelFontSize":14,"labelColor":"#262626","titleFont":"Liberation Sans","titleFontSize":25,"titleFontWeight":"normal","titleColor":"#262626","domainColor":"#262626","domainWidth":1.2,"tickColor":"#262626","tickWidth":1,"tickSize":-6,"gridColor":"#e4e4e4","gridWidth":1,"labelFlush":false,"labelOverlap":false},
"axisX":{"labelPadding":15,"titlePadding":7},
"axisY":{"labelPadding":14,"titlePadding":3},
"title":{"font":"Liberation Sans","fontSize":26,"fontWeight":"bold","color":"#000000","anchor":"middle","frame":"group"},
"legend":{"labelFont":"Liberation Sans","labelFontSize":15,"labelColor":"#000000","labelLimit":400,"symbolType":"M-4,0H4","symbolSize":169,"symbolStrokeWidth":5,"symbolOffset":18,"labelOffset":21,"padding":6,"strokeColor":"#262626","fillColor":"#ffffff"}
}
}
